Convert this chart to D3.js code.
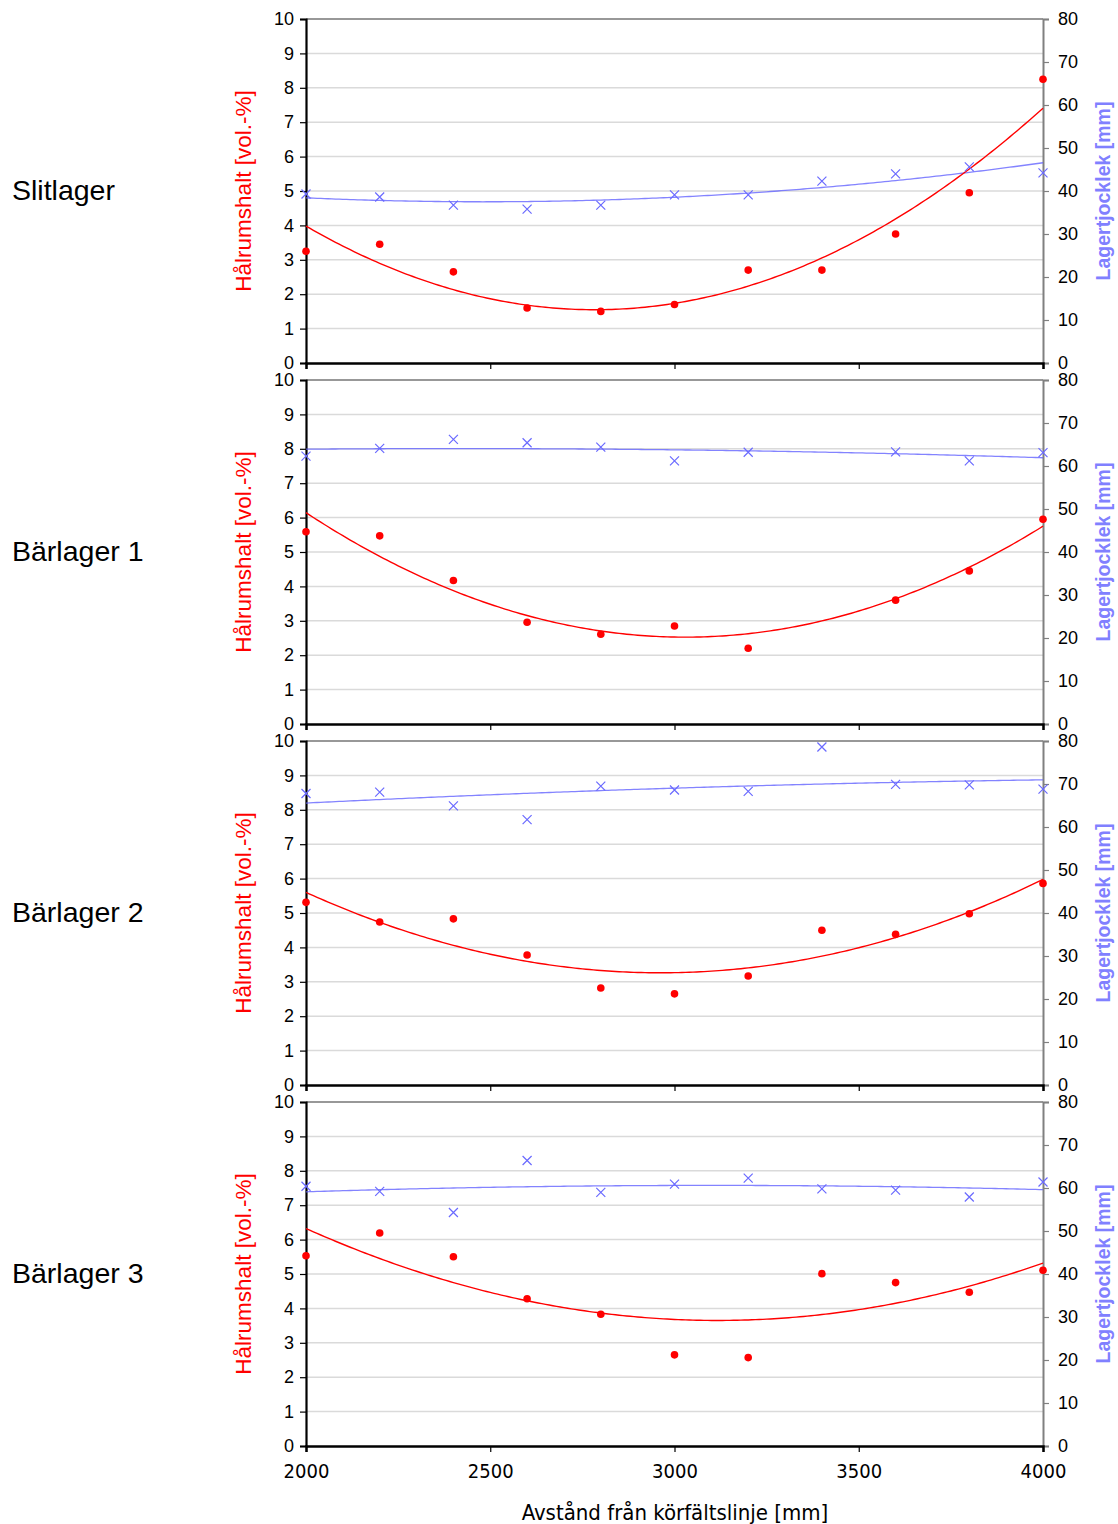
<!DOCTYPE html>
<html><head><meta charset="utf-8">
<script src="https://cdn.jsdelivr.net/npm/d3@7"></script>
<style>
body{margin:0;background:#fff;}
svg{display:block;}
</style></head>
<body>
<svg id="chart" width="1118" height="1524"></svg>
<script>
const xValues = [2000,2200,2400,2600,2800,3000,3200,3400,3600,3800,4000];
const panelNames = ["Slitlager","Bärlager 1","Bärlager 2","Bärlager 3"];
// Hålrumshalt [vol.-%] (left axis)
const voidSlitlager = [3.25,3.45,2.65,1.6,1.5,1.7,2.7,2.7,3.75,4.95,8.25];
const voidBarlager1 = [5.59,5.47,4.17,2.96,2.61,2.85,2.2,null,3.6,4.45,5.95];
const voidBarlager2 = [5.31,4.74,4.83,3.78,2.82,2.65,3.17,4.5,4.38,4.98,5.86];
const voidBarlager3 = [5.53,6.19,5.5,4.28,3.83,2.65,2.57,5.01,4.75,4.47,5.11];
// Lagertjocklek [mm] (right axis)
const thickSlitlager = [39.3,38.6,36.7,35.8,36.7,39.1,39.1,42.3,44.0,45.6,44.2];
const thickBarlager1 = [62.3,64.1,66.2,65.4,64.4,61.2,63.2,null,63.3,61.2,63.1];
const thickBarlager2 = [67.8,68.1,64.9,61.7,69.5,68.6,68.3,78.6,69.9,69.8,68.8];
const thickBarlager3 = [60.4,59.2,54.3,66.4,59.0,60.9,62.3,59.8,59.5,57.9,61.4];
const leftTicks = [0,1,2,3,4,5,6,7,8,9,10];
const rightTicks = [0,10,20,30,40,50,60,70,80];
const xTicks = [2000,2500,3000,3500,4000];
const leftTitle = "Hålrumshalt [vol.-%]";
const rightTitle = "Lagertjocklek [mm]";
const xTitle = "Avstånd från körfältslinje [mm]";

const voids = [voidSlitlager,voidBarlager1,voidBarlager2,voidBarlager3];
const thicks = [thickSlitlager,thickBarlager1,thickBarlager2,thickBarlager3];

// least-squares quadratic trendline (as the spreadsheet's polynomial trendline)
function quadFit(xs, ys){
  const pts = xs.map((x,i)=>[x,ys[i]]).filter(p=>p[1]!=null);
  const x0 = 3000, s = 1000;
  let S=[0,0,0,0,0], T=[0,0,0];
  pts.forEach(([x,y])=>{
    const t=(x-x0)/s; let p=1;
    for(let k=0;k<5;k++){S[k]+=p; if(k<3) T[k]+=p*y; p*=t;}
  });
  const A=[[S[0],S[1],S[2],T[0]],[S[1],S[2],S[3],T[1]],[S[2],S[3],S[4],T[2]]];
  for(let i=0;i<3;i++){
    for(let j=i+1;j<3;j++){const f=A[j][i]/A[i][i];for(let k=i;k<4;k++)A[j][k]-=f*A[i][k];}
  }
  const c=[0,0,0];
  for(let i=2;i>=0;i--){let v=A[i][3];for(let k=i+1;k<3;k++)v-=A[i][k]*c[k];c[i]=v/A[i][i];}
  return x=>{const t=(x-x0)/s;return c[0]+c[1]*t+c[2]*t*t;};
}

const svg = d3.select("#chart");
const left = 306, right = 1043;
const x = d3.scaleLinear().domain([2000,4000]).range([left,right]);
const panelTops = [19,380,741,1102];
const ph = 344;
const font = "'Liberation Sans', Arial, sans-serif";
const narrow = "'Liberation Sans Narrow', 'DejaVu Sans Condensed', Arial, sans-serif";
const redC = "#ff0000", blueLine = "rgba(100,100,255,0.8)", blueMark = "#6a6aff", titleBlue = "#8080ff";

const samples = d3.range(2000,4000.1,10);

panelTops.forEach((top,pi)=>{
  const bottom = top+ph;
  const yL = d3.scaleLinear().domain([0,10]).range([bottom,top]);
  const yR = d3.scaleLinear().domain([0,80]).range([bottom,top]);
  const g = svg.append("g");

  // gridlines
  g.append("g").selectAll("line").data(leftTicks.filter(d=>d>0&&d<10)).join("line")
    .attr("x1",left).attr("x2",right).attr("y1",d=>yL(d)).attr("y2",d=>yL(d))
    .attr("stroke","#dadada").attr("stroke-width",1.5);

  // top border
  g.append("line").attr("x1",left).attr("x2",right).attr("y1",top).attr("y2",top)
    .attr("stroke","#333").attr("stroke-width",1.2);

  // right axis
  const rAx = g.append("g").attr("transform",`translate(${right},0)`)
    .call(d3.axisRight(yR).tickValues(rightTicks).tickSize(6).tickPadding(9).tickFormat(d3.format("d")));
  rAx.select(".domain").attr("stroke","#808080").attr("stroke-width",2);
  rAx.selectAll(".tick line").attr("stroke","#808080").attr("stroke-width",1.2);
  rAx.selectAll("text").attr("font-family",font).attr("font-size",18).attr("fill","#000");

  // left axis
  const lAx = g.append("g").attr("transform",`translate(${left},0)`)
    .call(d3.axisLeft(yL).tickValues(leftTicks).tickSize(6).tickPadding(6).tickFormat(d3.format("d")));
  lAx.select(".domain").attr("stroke","#000").attr("stroke-width",2.2);
  lAx.selectAll(".tick line").attr("stroke","#000").attr("stroke-width",1.2);
  lAx.selectAll("text").attr("font-family",font).attr("font-size",18).attr("fill","#000");

  // bottom axis
  const bAx = g.append("g").attr("transform",`translate(0,${bottom})`)
    .call(d3.axisBottom(x).tickValues(xTicks).tickSize(6).tickPadding(12).tickFormat(d3.format("d")));
  bAx.select(".domain").attr("stroke","#000").attr("stroke-width",2.5);
  bAx.selectAll(".tick line").attr("stroke","#000").attr("stroke-width",1.2);
  bAx.selectAll("text").attr("font-family",narrow).attr("font-size",20).attr("fill","#000")
    .style("display", pi===3 ? null : "none");

  // trendlines
  const fr = quadFit(xValues, voids[pi]);
  const fb = quadFit(xValues, thicks[pi]);
  g.append("path").datum(samples)
    .attr("d",d3.line().x(d=>x(d)).y(d=>yR(fb(d))))
    .attr("fill","none").attr("stroke",blueLine).attr("stroke-width",1.3);
  g.append("path").datum(samples)
    .attr("d",d3.line().x(d=>x(d)).y(d=>yL(fr(d))))
    .attr("fill","none").attr("stroke",redC).attr("stroke-width",1.4);

  // blue x markers
  const bd = xValues.map((v,i)=>[v,thicks[pi][i]]).filter(d=>d[1]!=null);
  g.append("g").selectAll("path").data(bd).join("path")
    .attr("d",d=>{const cx=x(d[0]),cy=yR(d[1]),r=4.5;
      return `M${cx-r},${cy-r}L${cx+r},${cy+r}M${cx-r},${cy+r}L${cx+r},${cy-r}`;})
    .attr("stroke",blueMark).attr("stroke-width",1.2).attr("fill","none");

  // red dots
  const rd = xValues.map((v,i)=>[v,voids[pi][i]]).filter(d=>d[1]!=null);
  g.append("g").selectAll("circle").data(rd).join("circle")
    .attr("cx",d=>x(d[0])).attr("cy",d=>yL(d[1])).attr("r",3.8).attr("fill",redC);

  // axis titles
  const mid = top+ph/2;
  g.append("text").attr("transform",`translate(251,${mid}) rotate(-90)`)
    .attr("text-anchor","middle").attr("font-family",font).attr("font-size",22.5)
    .attr("fill",redC).text(leftTitle);
  g.append("text").attr("transform",`translate(1110,${mid}) rotate(-90)`)
    .attr("text-anchor","middle").attr("font-family",font).attr("font-size",19.5).attr("font-weight","bold")
    .attr("fill",titleBlue).text(rightTitle);

  // panel label
  g.append("text").attr("x",12).attr("y",mid+9).attr("font-family",font).attr("font-size",28.5)
    .attr("fill","#000").text(panelNames[pi]);
});

svg.append("text").attr("x",675).attr("y",1520).attr("text-anchor","middle")
  .attr("font-family",narrow).attr("font-size",22).attr("fill","#000").text(xTitle);
</script>
</body></html>
